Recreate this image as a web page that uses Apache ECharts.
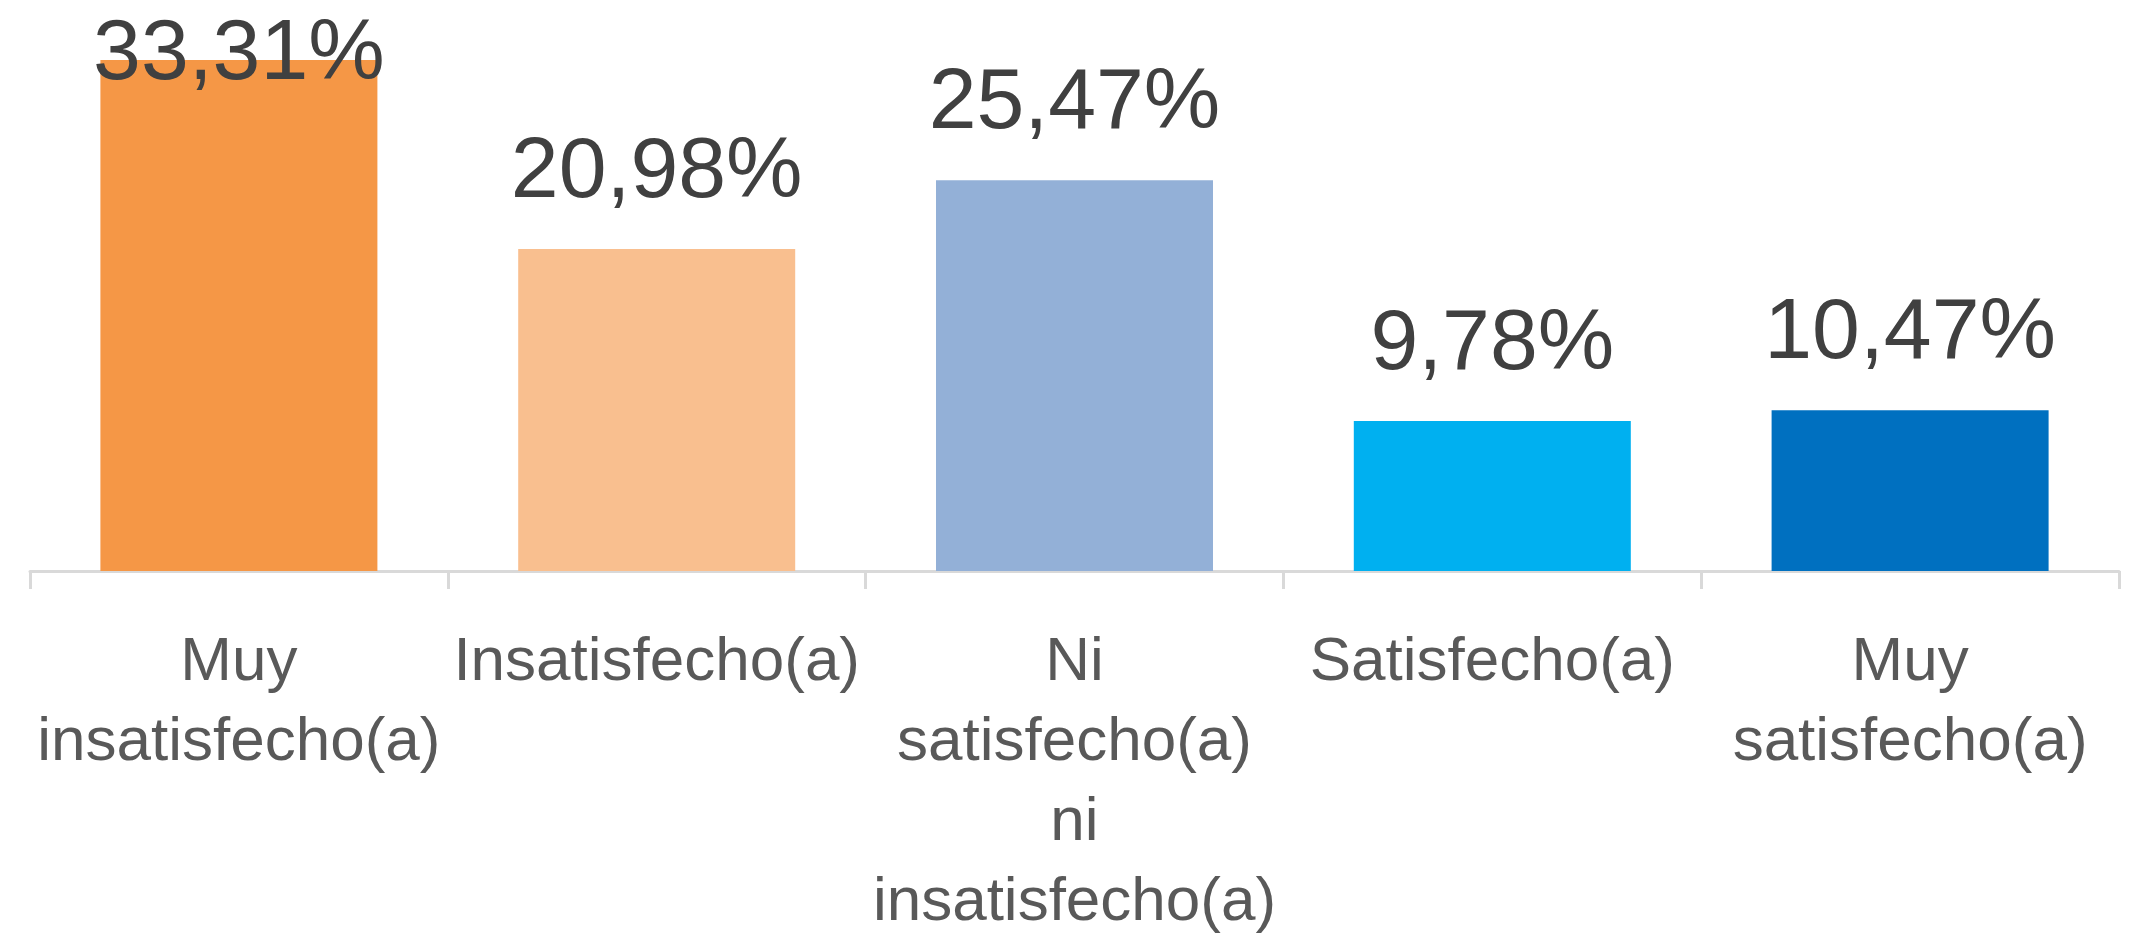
<!DOCTYPE html>
<html>
<head>
<meta charset="utf-8">
<style>
  html, body { margin: 0; padding: 0; background: #fff; }
  #chart { width: 2132px; height: 940px; }
</style>
<script src="https://cdn.jsdelivr.net/npm/echarts@6/dist/echarts.min.js"></script>
</head>
<body>
<div id="chart"></div>
<script>
// datos del gráfico
var categorias = [
  "Muy insatisfecho(a)",
  "Insatisfecho(a)",
  "Ni satisfecho(a) ni insatisfecho(a)",
  "Satisfecho(a)",
  "Muy satisfecho(a)"
];
var porcentajes = [33.31, 20.98, 25.47, 9.78, 10.47];
var colores = ["#F59746", "#F9BF8F", "#93B0D7", "#00B0F0", "#0070C0"];

var LABEL_H = 100; // alto de la caja de etiqueta
var LABEL_DIST = 26;
var TOP_MIN = 5; // la etiqueta no sube más allá del borde del gráfico

var chart = echarts.init(document.getElementById("chart"));

function datosBarras(desplaz) {
  return porcentajes.map(function (v, i) {
    var d = { value: v, itemStyle: { color: colores[i] } };
    if (desplaz && desplaz[i]) {
      d.label = { offset: [0, desplaz[i]] };
    }
    return d;
  });
}

var option = {
  animation: false,
  textStyle: { fontFamily: "Liberation Sans" },
  grid: {
    left: 30,
    right: 13,
    top: 34,
    bottom: 369,
    outerBoundsMode: "none",
    containLabel: false
  },
  xAxis: {
    type: "category",
    data: categorias,
    boundaryGap: true,
    axisLine: {
      show: true,
      lineStyle: { color: "#d9d9d9", width: 3 }
    },
    axisTick: {
      show: true,
      alignWithLabel: false,
      interval: 0,
      length: 18,
      lineStyle: { color: "#d9d9d9", width: 3 }
    },
    axisLabel: {
      interval: 0,
      margin: 52,
      color: "#595959",
      fontSize: 62,
      lineHeight: 80,
      // una palabra por línea, como en el original
      formatter: function (v) {
        return v.split(" ").join("\n");
      }
    }
  },
  yAxis: {
    type: "value",
    show: false,
    min: 0,
    max: 35,
    splitLine: { show: false }
  },
  series: [
    {
      type: "bar",
      barCategoryGap: "33.7%",
      data: datosBarras(null),
      label: {
        show: true,
        position: "top",
        distance: LABEL_DIST,
        color: "#404040",
        fontSize: 86,
        lineHeight: LABEL_H,
        formatter: function (p) {
          return p.value.toFixed(2).replace(".", ",") + "%";
        }
      }
    }
  ]
};

chart.setOption(option);

// como en Excel: si la etiqueta se sale por arriba, se baja dentro del área
var desplaz = porcentajes.map(function (v, i) {
  var y = chart.convertToPixel({ gridIndex: 0 }, [i, v])[1];
  var arriba = y - LABEL_DIST - LABEL_H;
  return arriba < TOP_MIN ? TOP_MIN - arriba : 0;
});
chart.setOption({ series: [{ data: datosBarras(desplaz) }] });

window.addEventListener("resize", function () {
  chart.resize();
});
</script>
</body>
</html>
